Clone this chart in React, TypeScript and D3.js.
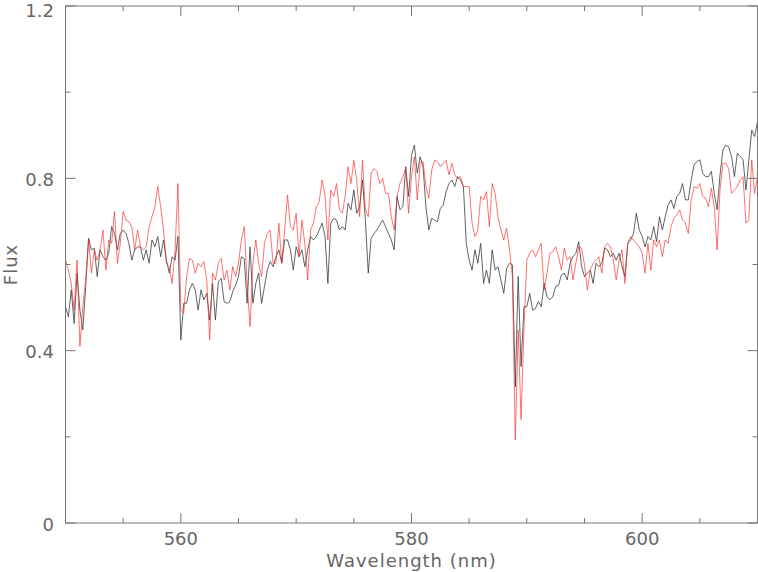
import React from "react";
import * as d3 from "d3";

// Wavelength grid: 550 nm to 610 nm every 0.25 nm
const waveStart = 550;
const waveStep = 0.25;

const blackFlux = [
  0.502, 0.479, 0.541, 0.463, 0.580, 0.494, 0.448, 0.549,
  0.661, 0.634, 0.638, 0.572, 0.634, 0.618, 0.610, 0.626,
  0.688, 0.672, 0.634, 0.672, 0.680, 0.672, 0.649, 0.610,
  0.634, 0.641, 0.641, 0.610, 0.634, 0.603, 0.657, 0.641,
  0.665, 0.618, 0.657, 0.610, 0.580, 0.618, 0.610, 0.665,
  0.425, 0.510, 0.510, 0.541, 0.556, 0.541, 0.494, 0.541,
  0.518, 0.533, 0.471, 0.556, 0.471, 0.560, 0.568, 0.514,
  0.510, 0.514, 0.537, 0.552, 0.572, 0.618, 0.614, 0.510,
  0.641, 0.510, 0.556, 0.580, 0.510, 0.549, 0.587, 0.607,
  0.595, 0.618, 0.634, 0.603, 0.657, 0.657, 0.634, 0.587,
  0.641, 0.618, 0.634, 0.595, 0.634, 0.665, 0.657, 0.665,
  0.680, 0.696, 0.665, 0.556, 0.696, 0.707, 0.703, 0.680,
  0.688, 0.680, 0.742, 0.727, 0.773, 0.719, 0.734, 0.796,
  0.703, 0.580, 0.661, 0.672, 0.680, 0.692, 0.703, 0.688,
  0.672, 0.657, 0.634, 0.758, 0.727, 0.734, 0.827, 0.758,
  0.854, 0.877, 0.812, 0.850, 0.827, 0.734, 0.680, 0.707,
  0.703, 0.699, 0.730, 0.738, 0.769, 0.788, 0.796, 0.781,
  0.804, 0.796, 0.781, 0.649, 0.610, 0.587, 0.634,
  0.603, 0.649, 0.556, 0.587, 0.556, 0.634, 0.587, 0.595, 0.564,
  0.533, 0.591, 0.603, 0.599, 0.316, 0.572, 0.363, 0.502,
  0.502, 0.533, 0.494, 0.498, 0.514, 0.502, 0.556, 0.525,
  0.518, 0.525, 0.549, 0.552, 0.576, 0.580, 0.564, 0.603,
  0.618, 0.626, 0.653, 0.595, 0.572, 0.580, 0.587, 0.556,
  0.603, 0.595, 0.603, 0.638, 0.634, 0.618,
  0.626, 0.610, 0.626, 0.595, 0.572, 0.649, 0.657, 0.672, 0.719, 0.680,
  0.665, 0.641, 0.665, 0.657, 0.688, 0.653, 0.711, 0.680,
  0.711, 0.738, 0.750, 0.730, 0.758, 0.765, 0.788, 0.750,
  0.750, 0.796, 0.831, 0.839, 0.843, 0.812, 0.804, 0.804,
  0.816, 0.765, 0.727, 0.808, 0.866, 0.877, 0.873, 0.851,
  0.804, 0.858, 0.851, 0.843, 0.773, 0.843, 0.912, 0.897,
  0.932,
];

const redFlux = [
  0.610, 0.587, 0.556, 0.494, 0.610, 0.410, 0.502, 0.564,
  0.657, 0.580, 0.634, 0.610, 0.634, 0.680, 0.587, 0.657,
  0.649, 0.723, 0.603, 0.649, 0.723, 0.703, 0.699, 0.688,
  0.634, 0.680, 0.641, 0.634, 0.641, 0.688, 0.711, 0.734,
  0.781, 0.734, 0.680, 0.603, 0.595, 0.556, 0.634, 0.788,
  0.494, 0.487, 0.572, 0.614, 0.610, 0.580, 0.603, 0.595,
  0.607, 0.564, 0.425, 0.580, 0.564, 0.603, 0.614, 0.564,
  0.587, 0.541, 0.595, 0.572, 0.603, 0.657, 0.688, 0.556,
  0.456, 0.603, 0.657, 0.603, 0.572, 0.649, 0.672, 0.680,
  0.603, 0.603, 0.696, 0.603, 0.680, 0.761, 0.688, 0.680,
  0.719, 0.618, 0.703, 0.649, 0.564, 0.680, 0.696, 0.734,
  0.746, 0.796, 0.761, 0.657, 0.773, 0.758, 0.788, 0.727,
  0.719, 0.758, 0.827, 0.788, 0.842, 0.796, 0.711, 0.842,
  0.727, 0.711, 0.812, 0.823, 0.816, 0.788, 0.800, 0.765,
  0.765, 0.711, 0.680, 0.758, 0.788, 0.804, 0.823, 0.719,
  0.804, 0.850, 0.750, 0.835, 0.839, 0.781, 0.754, 0.819,
  0.842, 0.839, 0.827, 0.835, 0.842, 0.808, 0.835, 0.808,
  0.800, 0.804, 0.781, 0.781, 0.781, 0.696, 0.665,
  0.680, 0.758, 0.750, 0.769, 0.688, 0.788, 0.765, 0.711, 0.680,
  0.657, 0.684, 0.634, 0.572, 0.193, 0.448, 0.240, 0.450,
  0.610, 0.626, 0.634, 0.618, 0.634, 0.649, 0.541, 0.580,
  0.626, 0.630, 0.641, 0.618, 0.587, 0.638, 0.610, 0.618,
  0.564, 0.603, 0.641, 0.638, 0.599, 0.541, 0.587, 0.603,
  0.610, 0.618, 0.580, 0.641, 0.649, 0.641,
  0.610, 0.564, 0.610, 0.634, 0.556, 0.649, 0.665, 0.657, 0.649, 0.641,
  0.626, 0.580, 0.649, 0.587, 0.657, 0.641, 0.657, 0.618,
  0.657, 0.649, 0.688, 0.707, 0.715, 0.727, 0.703, 0.696,
  0.672, 0.750, 0.781, 0.777, 0.788, 0.758, 0.754, 0.734,
  0.777, 0.734, 0.634, 0.773, 0.835, 0.835, 0.823, 0.765,
  0.773, 0.781, 0.796, 0.804, 0.696, 0.704, 0.843, 0.765,
  0.804,
];

const xDomain = [550, 610];
const yDomain = [0, 1.2];
const xTickLabels = [560, 580, 600];
const xMinorTicks = [555, 565, 570, 575, 585, 590, 595, 605];
const yTickLabels = [0, 0.4, 0.8, 1.2];
const yMinorTicks = [0.2, 0.6, 1.0];
const xTitle = "Wavelength (nm)";
const yTitle = "Flux";

const W = 758;
const H = 572;
const L = 65.5, R = 757.5, T = 6, B = 523;

export default function App() {
  const x = d3.scaleLinear().domain(xDomain).range([L, R]);
  const y = d3.scaleLinear().domain(yDomain).range([B, T]);
  const toPts = (arr: number[]) => arr.map((v, i) => [waveStart + i * waveStep, v] as [number, number]);
  const line = d3.line<[number, number]>().x((d) => x(d[0])).y((d) => y(d[1]));
  const axisColor = "#777";
  const textColor = "#666";
  const font = "DejaVu Sans, sans-serif";
  const major = 10, minor = 5;

  return (
    <svg width={W} height={H} style={{ position: "absolute", left: 0, top: 0, background: "#fff" }}>
      <defs>
        <clipPath id="plotclip">
          <rect x={L} y={T} width={R - L} height={B - T} />
        </clipPath>
      </defs>
      <g clipPath="url(#plotclip)">
        <path d={line(toPts(blackFlux)) || ""} fill="none" stroke="#333" strokeOpacity={0.85} strokeWidth={0.9} strokeLinejoin="round" />
        <path d={line(toPts(redFlux)) || ""} fill="none" stroke="#ff2020" strokeOpacity={0.7} strokeWidth={0.9} strokeLinejoin="round" />
      </g>
      <rect x={L} y={T} width={R - L} height={B - T} fill="none" stroke={axisColor} strokeWidth={1} />
      {xTickLabels.map((t) => (
        <g key={"xm" + t}>
          <line x1={x(t)} x2={x(t)} y1={B} y2={B - major} stroke={axisColor} />
          <line x1={x(t)} x2={x(t)} y1={T} y2={T + major} stroke={axisColor} />
          <text x={x(t)} y={545} textAnchor="middle" fontFamily={font} fontSize={18} fill={textColor}>{t}</text>
        </g>
      ))}
      {xMinorTicks.map((t) => (
        <g key={"xn" + t}>
          <line x1={x(t)} x2={x(t)} y1={B} y2={B - minor} stroke={axisColor} />
          <line x1={x(t)} x2={x(t)} y1={T} y2={T + minor} stroke={axisColor} />
        </g>
      ))}
      {yTickLabels.map((t) => (
        <g key={"ym" + t}>
          <line x1={L} x2={L + major} y1={y(t)} y2={y(t)} stroke={axisColor} />
          <line x1={R} x2={R - major} y1={y(t)} y2={y(t)} stroke={axisColor} />
          <text x={54} y={Math.max(y(t) + 7.5, 17)} textAnchor="end" fontFamily={font} fontSize={18} fill={textColor}>{t === 0 ? "0" : t.toFixed(1)}</text>
        </g>
      ))}
      {yMinorTicks.map((t) => (
        <g key={"yn" + t}>
          <line x1={L} x2={L + minor} y1={y(t)} y2={y(t)} stroke={axisColor} />
          <line x1={R} x2={R - minor} y1={y(t)} y2={y(t)} stroke={axisColor} />
        </g>
      ))}
      <text x={(L + R) / 2} y={567} textAnchor="middle" fontFamily={font} fontSize={18} fill={textColor} letterSpacing={1}>{xTitle}</text>
      <text transform={`translate(17, ${(T + B) / 2}) rotate(-90)`} textAnchor="middle" fontFamily={font} fontSize={18} fill={textColor} letterSpacing={1}>{yTitle}</text>
    </svg>
  );
}
